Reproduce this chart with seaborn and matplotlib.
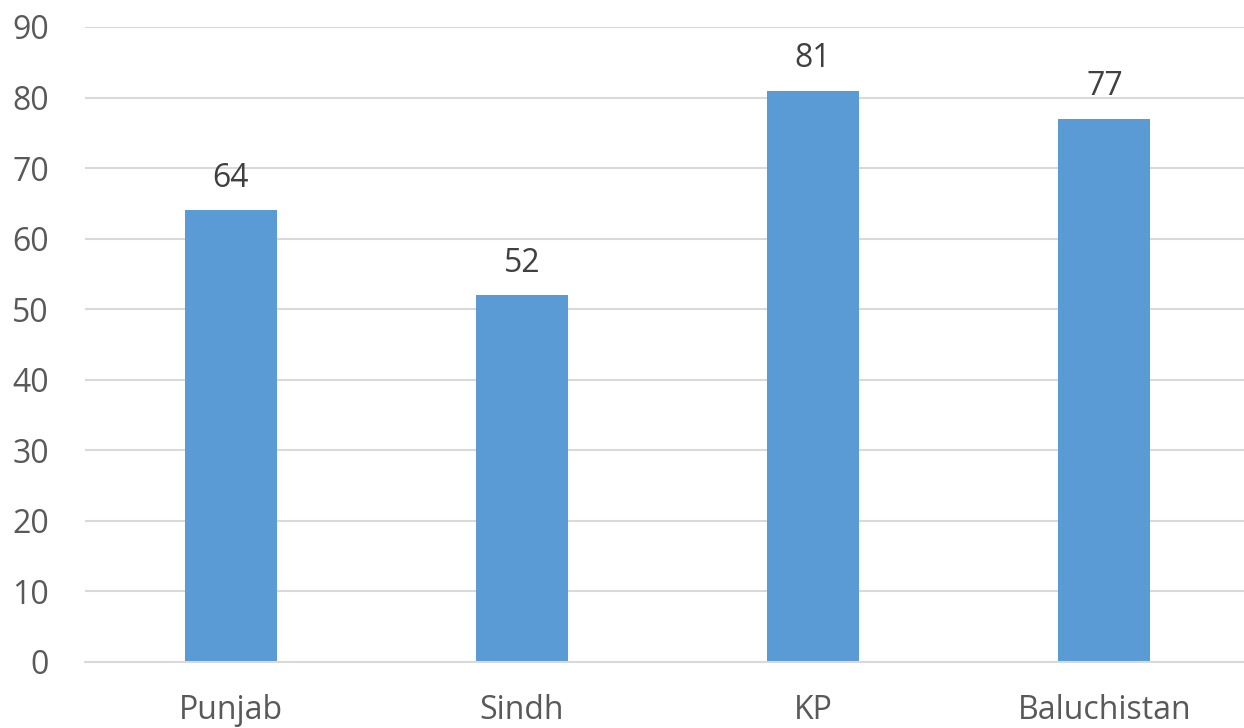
import matplotlib
matplotlib.use("Agg")
import matplotlib.pyplot as plt
import seaborn as sns
import pandas as pd

categories = ["Punjab", "Sindh", "KP", "Baluchistan"]
values = [64, 52, 81, 77]
yticks = [0, 10, 20, 30, 40, 50, 60, 70, 80, 90]

sns.set_theme(style="white")
plt.rcParams['font.family'] = ['Open Sans', 'DejaVu Sans']

df = pd.DataFrame({"region": categories, "value": values})

fig = plt.figure(figsize=(12.44, 7.28), dpi=100)
ax = fig.add_axes([85/1244, 66/728, 1165/1244, 635/728])
sns.barplot(data=df, x="region", y="value", color="#5B9BD5", saturation=1,
            width=0.316, linewidth=0, ax=ax)
ax.set_xlim(-0.5, 3.5)
ax.set_ylim(0, 90)
ax.set_yticks(yticks)
ax.yaxis.grid(True, color="#D9D9D9", linewidth=1.5)
ax.set_axisbelow(True)
for s in ["top", "right", "left"]:
    ax.spines[s].set_visible(False)
ax.spines["bottom"].set_color("#D9D9D9")
ax.spines["bottom"].set_linewidth(1.5)
ax.set_xlabel("")
ax.set_ylabel("")
ax.tick_params(axis="both", length=0, labelsize=23, labelcolor="#595959")
ax.tick_params(axis="x", pad=23)
ax.tick_params(axis="y", pad=26)
for c in ax.containers:
    ax.bar_label(c, labels=[str(v) for v in values], padding=11,
                 fontsize=23, color="#404040")
fig.savefig("out.png", dpi=100)
